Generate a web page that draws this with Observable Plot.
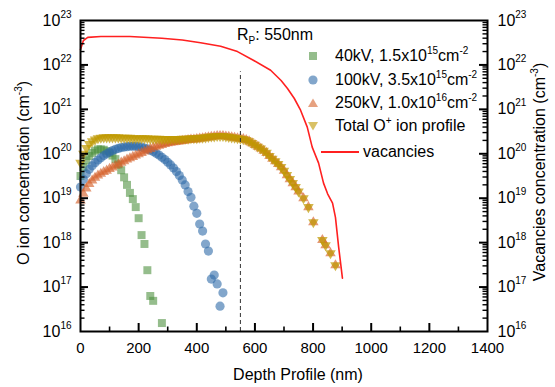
<!DOCTYPE html>
<html><head><meta charset="utf-8">
<script src="https://cdn.jsdelivr.net/npm/d3@7"></script>
<script src="https://cdn.jsdelivr.net/npm/@observablehq/plot@0.6"></script>
<style>
body{margin:0;background:#fff;}
#wrap{position:relative;width:555px;height:387px;font-family:"Liberation Sans",Arial,sans-serif;color:#000;}
.ov{position:absolute;white-space:nowrap;line-height:1;}
.ov sup{font-size:10px;vertical-align:0;position:relative;top:-7px;}
.ov sub{font-size:10px;vertical-align:0;position:relative;top:4px;}
.leg{font-size:16px;transform:translateY(-50%);}
.sym{transform:translate(-50%,-50%);}
.rot{font-size:16px;transform:translate(-50%,-50%) rotate(-90deg);}
</style></head>
<body><div id="wrap"></div>
<script>
// ---- data (concentrations given as log10 exponents) ----
const xTickLabels = [0,200,400,600,800,1000,1200,1400];
const xMajorTicks = [200,400,600,800,1000,1200];
const xMinorTicks = [100,300,500,700,900,1100,1300];
const yDecades = [1e16,1e17,1e18,1e19,1e20,1e21,1e22,1e23];
const yInnerDecades = [1e17,1e18,1e19,1e20,1e21,1e22];
const yMinor = [2,3,4,5,6,7,8,9].flatMap(m => [1e16,1e17,1e18,1e19,1e20,1e21,1e22].map(d => m*d));

const green40Depth = [0,10,20,30,40,50,60,70,80,90,100,110,120,130,140,150,160,170,180,190,200,210,220,230,240,250,280];
const green40Exp = [19.5,19.7,19.85,19.95,20.02,20.07,20.1,20.1,20.09,20.06,20.02,19.96,19.88,19.76,19.63,19.47,19.3,19.12,18.98,18.8,18.55,18.17,17.97,17.38,16.8,16.69,16.19];

const blue100Depth = [0,10,20,30,40,50,60,70,80,90,100,110,120,130,140,150,160,170,180,190,200,210,220,230,240,250,260,270,280,290,300,310,320,330,340,350,360,370,380,390,400,410,420,430,440,450,460,470,480,490];
const blue100Exp = [19.25,19.42,19.55,19.65,19.73,19.8,19.86,19.91,19.96,20.0,
 20.04,20.07,20.1,20.12,20.14,20.15,20.16,20.17,20.17,20.17,
 20.16,20.15,20.13,20.11,20.08,20.05,20.01,19.97,19.92,19.87,
 19.81,19.75,19.68,19.6,19.51,19.41,19.3,19.15,19.02,18.82,
 18.66,18.42,18.26,17.97,17.81,17.18,17.27,17.07,16.57,16.87];

const deep250Depth = [0,10,20,30,40,50,60,70,80,90,100,110,120,130,140,150,160,170,180,190,200,210,220,230,240,250,260,270,280,290,300,310,320,330,340,350,360,370,380,390,400,410,420,430,440,450,460,470,480,490,500,510,520,530,540,550,560,570,580,590,600,610,620,630,640,650,660,670,680,690,700,710,720,730,740,750,767,784,801,832,843,860,877];
const orange250Exp = [18.95,19.1,19.22,19.32,19.4,19.46,19.51,19.55,19.59,19.62,
 19.66,19.69,19.73,19.76,19.8,19.83,19.87,19.9,19.93,19.96,
 19.99,20.02,20.05,20.08,20.11,20.14,20.16,20.18,20.2,20.22,
 20.24,20.25,20.26,20.27,20.28,20.29,20.3,20.31,20.32,20.32,
 20.33,20.34,20.35,20.36,20.37,20.38,20.39,20.4,20.4,20.4,
 20.39,20.38,20.37,20.36,20.35,20.34,20.33,20.31,20.28,20.24,
 20.2,20.16,20.12,20.07,20.02,19.95,19.89,19.83,19.77,19.7,
 19.62,19.52,19.43,19.34,19.25,19.15,
 19.0,18.8,18.46,18.06,17.94,17.76,17.49];
const totalExp = [19.8,20.0,20.13,20.22,20.28,20.32,20.35,20.36,20.37,20.37,
 20.37,20.37,20.37,20.37,20.36,20.36,20.36,20.36,20.35,20.35,
 20.35,20.35,20.35,20.35,20.34,20.34,20.34,20.34,20.33,20.33,
 20.33,20.33,20.33,20.33,20.33,20.34,20.34,20.34,20.35,20.35,
 20.35,20.36,20.36,20.37,20.38,20.39,20.39,20.4,20.4,20.4,
 20.39,20.38,20.37,20.36,20.35,20.34,20.33,20.31,20.28,20.24,
 20.2,20.16,20.12,20.07,20.02,19.95,19.89,19.83,19.77,19.7,
 19.62,19.52,19.43,19.34,19.25,19.15,
 19.0,18.8,18.46,18.06,17.94,17.76,17.49];

const vacDepth = [0,10,25,70,170,280,350,413,482,540,596,654,690,712,735,757,780,797,819,836,850,867,877,888,901];
const vacExp = [22.35,22.55,22.62,22.64,22.64,22.6,22.56,22.5,22.42,22.3,22.1,21.88,21.65,21.47,21.25,20.98,20.6,20.15,19.79,19.34,19.1,18.89,18.57,17.9,17.2];

const rpDepth = 550;
const rpLineTop = 7e21;

// ---- build tables ----
const toRows = (xs, es) => xs.map((x, i) => ({depth: x, value: Math.pow(10, es[i])}));
const green = toRows(green40Depth, green40Exp);
const blue = toRows(blue100Depth, blue100Exp);
const orange = toRows(deep250Depth, orange250Exp);
const total = toRows(deep250Depth, totalExp);
const vac = toRows(vacDepth, vacExp);

const C = {green:"#4e9140", blue:"#2f6aa8", orange:"#d5622c", gold:"#bf9800", red:"#ff2020"};

const triangleDown = {
  draw(context, size) {
    const y = -Math.sqrt(size / (Math.sqrt(3) * 3));
    context.moveTo(0, -y * 2);
    context.lineTo(-Math.sqrt(3) * y, y);
    context.lineTo(Math.sqrt(3) * y, y);
    context.closePath();
  }
};

// inward tick lengths, expressed in each scale's units (≈8 px major, ≈4.5 px minor)
const xDom = [0, 1400], yDom = [1e16, 1e23];
const tickMajX = 27.5, tickMinX = 15.5;
const tickMajY = 1.514e16, tickMinY = 1.262e16;
const fmtExp = d => "10^" + Math.round(Math.log10(d));
const id = d => d;

const chart = Plot.plot({
  width: 555, height: 387,
  marginLeft: 80, marginRight: 68, marginTop: 20, marginBottom: 56,
  style: {fontFamily: '"Liberation Sans", Arial, sans-serif', color: "black", background: "white"},
  x: {domain: xDom},
  y: {type: "log", domain: yDom},
  marks: [
    Plot.dot(green, {x: "depth", y: "value", symbol: "square", r: 4.5, fill: C.green, fillOpacity: 0.6}),
    Plot.dot(blue, {x: "depth", y: "value", symbol: "circle", r: 4.6, fill: C.blue, fillOpacity: 0.6}),
    Plot.dot(orange, {x: "depth", y: "value", symbol: "triangle", r: 3.9, fill: C.orange, fillOpacity: 0.65}),
    Plot.dot(total, {x: "depth", y: "value", symbol: triangleDown, r: 3.9, fill: C.gold, fillOpacity: 0.7}),
    Plot.ruleX([rpDepth], {y1: yDom[0], y2: rpLineTop, stroke: "#333", strokeWidth: 1, strokeDasharray: "4,3"}),
    Plot.line(vac, {x: "depth", y: "value", stroke: C.red, strokeWidth: 1.6}),
    // inward ticks (left, right, bottom)
    Plot.ruleY(yInnerDecades, {y: id, x1: xDom[0], x2: tickMajX, stroke: "black", strokeWidth: 2}),
    Plot.ruleY(yMinor, {y: id, x1: xDom[0], x2: tickMinX, stroke: "black", strokeWidth: 1.4}),
    Plot.ruleY(yInnerDecades, {y: id, x1: xDom[1] - tickMajX, x2: xDom[1], stroke: "black", strokeWidth: 2}),
    Plot.ruleY(yMinor, {y: id, x1: xDom[1] - tickMinX, x2: xDom[1], stroke: "black", strokeWidth: 1.4}),
    Plot.ruleX(xMajorTicks, {x: id, y1: yDom[0], y2: tickMajY, stroke: "black", strokeWidth: 2}),
    Plot.ruleX(xMinorTicks, {x: id, y1: yDom[0], y2: tickMinY, stroke: "black", strokeWidth: 1.6}),
    Plot.frame({stroke: "black", strokeWidth: 2}),
    Plot.axisX({ticks: xTickLabels, tickSize: 0, tickPadding: 11, tickFormat: d => String(d), fontSize: 15, label: null}),
    Plot.axisY({anchor: "left", ticks: yDecades, tickSize: 0, tickPadding: 9, tickFormat: fmtExp, fontSize: 16, label: null}),
    Plot.axisY({anchor: "right", ticks: yDecades, tickSize: 0, tickPadding: 10, tickFormat: fmtExp, fontSize: 16, label: null})
  ]
});

// superscript exponents in tick labels
d3.select(chart).selectAll("text").each(function () {
  const m = this.textContent.match(/^10\^(-?\d+)$/);
  if (m) {
    this.textContent = "10";
    const ts = document.createElementNS("http://www.w3.org/2000/svg", "tspan");
    ts.setAttribute("dy", "-8");
    ts.setAttribute("font-size", "10");
    ts.textContent = m[1];
    this.appendChild(ts);
  }
});

const wrap = document.getElementById("wrap");
wrap.appendChild(chart);

// ---- text overlays & legend ----
const legendItems = [
  {html: "40kV, 1.5x10<sup>15</sup>cm<sup>-2</sup>", shape: "square", color: C.green},
  {html: "100kV, 3.5x10<sup>15</sup>cm<sup>-2</sup>", shape: "circle", color: C.blue},
  {html: "250kV, 1.0x10<sup>16</sup>cm<sup>-2</sup>", shape: "up", color: C.orange},
  {html: "Total O<sup>+</sup> ion profile", shape: "down", color: C.gold}
];
function add(html, style, cls) {
  const d = document.createElement("div");
  d.className = "ov " + (cls || "");
  d.style.cssText = style;
  d.innerHTML = html;
  wrap.appendChild(d);
  return d;
}
const shapes = {
  square: '<rect x="2" y="2" width="8" height="8"/>',
  circle: '<circle cx="6" cy="6" r="4.6"/>',
  up: '<path d="M6,1.5L11,10L1,10Z"/>',
  down: '<path d="M6,10.5L11,2L1,2Z"/>'
};
const rowsY = [56, 80, 103, 126];
legendItems.forEach((it, i) => {
  add(`<svg width="12" height="12" style="display:block"><g fill="${it.color}" fill-opacity="0.6">${shapes[it.shape]}</g></svg>`,
      `left:313px;top:${rowsY[i]}px;`, "sym");
  add(it.html, `left:335px;top:${rowsY[i]}px;`, "leg");
});
add(`<svg width="38" height="4" style="display:block"><line x1="0" y1="2" x2="38" y2="2" stroke="${C.red}" stroke-width="2"/></svg>`,
    "left:340px;top:152px;", "sym");
add("vacancies", "left:363px;top:152px;", "leg");
add("R<sub>P</sub>: 550nm", "left:237px;top:35px;", "leg");
add("Depth Profile (nm)", "left:298px;top:375px;font-size:16px;transform:translate(-50%,-50%);");
add("O ion concentration (cm<sup>-3</sup>)", "left:24px;top:173px;", "rot");
add("Vacancies concentration (cm<sup>-3</sup>)", "left:540px;top:172px;", "rot");
</script>
</body></html>
